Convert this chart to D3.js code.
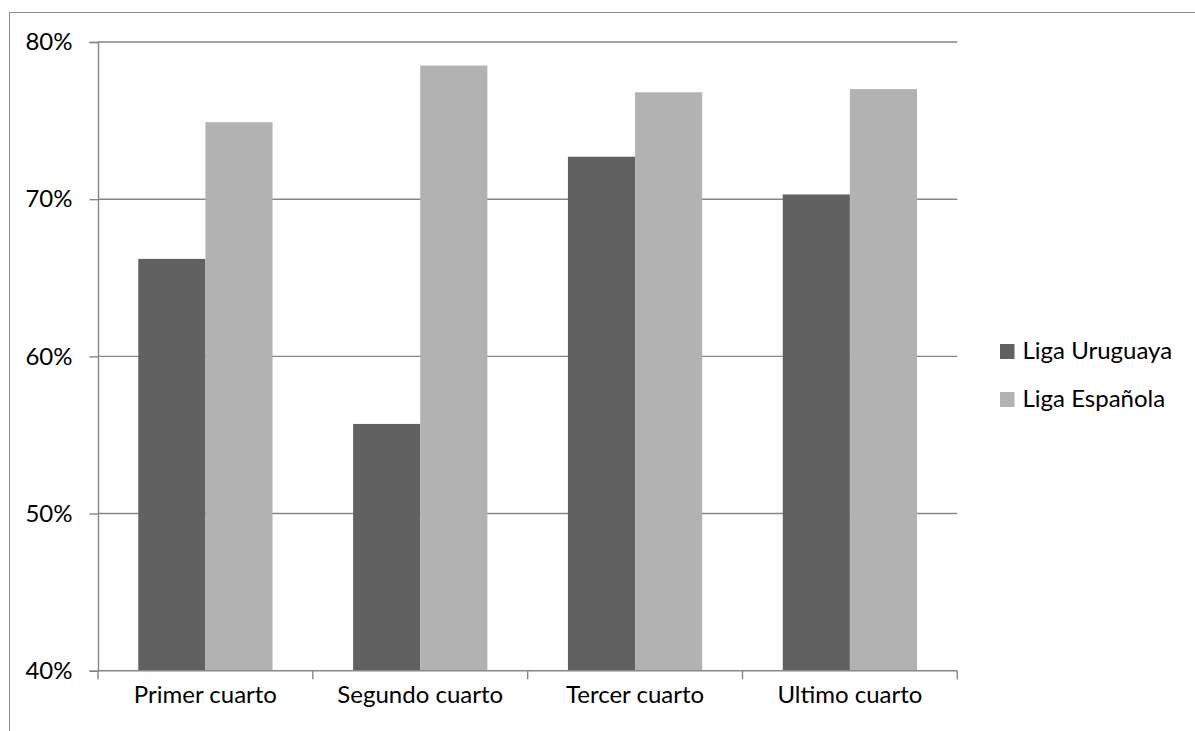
<!DOCTYPE html>
<html>
<head>
<meta charset="utf-8">
<script src="https://cdn.jsdelivr.net/npm/d3@7"></script>
<style>
  html, body { margin: 0; padding: 0; background: #fff; }
  svg { display: block; }
  text { font-family: Lato, "Open Sans", sans-serif; fill: #000; }
</style>
</head>
<body>
<svg id="chart" width="1195" height="731"></svg>
<script>
// Categories (quarters of the match) and the two series
const categories = ["Primer cuarto", "Segundo cuarto", "Tercer cuarto", "Ultimo cuarto"];
const seriesNames = ["Liga Uruguaya", "Liga Española"];
const ligaUruguaya = [0.662, 0.557, 0.727, 0.703];
const ligaEspanola = [0.749, 0.785, 0.768, 0.770];
const yTicks = [0.4, 0.5, 0.6, 0.7, 0.8];
const colors = ["#616161", "#b2b2b2"];

const seriesValues = [ligaUruguaya, ligaEspanola];
const rows = categories.map((c, i) => ({
  category: c,
  values: seriesNames.map((s, k) => ({ series: s, value: seriesValues[k][i], color: colors[k] }))
}));

const FONT_SIZE = 24;
const svg = d3.select("#chart");
const plot = { left: 98, right: 957.3, top: 42, bottom: 670.7 };
const gridColor = "#868686";

// Outer chart frame
svg.append("rect")
  .attr("x", 9.5).attr("y", 12.5)
  .attr("width", 1200).attr("height", 740)
  .attr("fill", "none").attr("stroke", "#8a8a8a").attr("stroke-width", 1);

const y = d3.scaleLinear().domain([0.4, 0.8]).range([plot.bottom, plot.top]);
const x0 = d3.scaleBand().domain(categories).range([plot.left, plot.right]).padding(0);
const x1 = d3.scaleBand().domain(seriesNames).range([0, x0.bandwidth()]).paddingInner(0).paddingOuter(0.6);

// Horizontal gridlines
svg.append("g").selectAll("line")
  .data(yTicks.filter(t => t > 0.4))
  .join("line")
  .attr("x1", plot.left).attr("x2", plot.right)
  .attr("y1", d => y(d)).attr("y2", d => y(d))
  .attr("stroke", gridColor).attr("stroke-width", 1.4);

// Bars
svg.append("g").selectAll("g")
  .data(rows)
  .join("g")
  .attr("transform", d => `translate(${x0(d.category)},0)`)
  .selectAll("rect")
  .data(d => d.values)
  .join("rect")
  .attr("x", d => x1(d.series))
  .attr("width", x1.bandwidth())
  .attr("y", d => y(d.value))
  .attr("height", d => y(0.4) - y(d.value))
  .attr("fill", d => d.color);

// Y axis
const yAxis = svg.append("g")
  .attr("transform", `translate(${plot.left},0)`)
  .call(d3.axisLeft(y).tickValues(yTicks).tickFormat(d3.format(".0%")).tickSize(8.5).tickPadding(17));
yAxis.select(".domain").attr("stroke", gridColor).attr("stroke-width", 1.4);
yAxis.selectAll(".tick line").attr("stroke", gridColor).attr("stroke-width", 1.4);
yAxis.selectAll(".tick text")
  .attr("font-size", FONT_SIZE).attr("font-family", "Lato, 'Open Sans', sans-serif").attr("fill", "#000");

// X axis: baseline, boundary ticks and centred category labels
const xAxis = svg.append("g").attr("transform", `translate(0,${plot.bottom})`);
xAxis.append("line")
  .attr("x1", plot.left).attr("x2", plot.right)
  .attr("stroke", gridColor).attr("stroke-width", 1.4);
const boundaries = categories.map(c => x0(c)).concat([x0(categories[categories.length - 1]) + x0.bandwidth()]);
xAxis.selectAll("line.tick")
  .data(boundaries)
  .join("line")
  .attr("class", "tick")
  .attr("x1", d => d).attr("x2", d => d)
  .attr("y1", 0).attr("y2", 8.5)
  .attr("stroke", gridColor).attr("stroke-width", 1.4);
xAxis.selectAll("text")
  .data(categories)
  .join("text")
  .attr("x", d => x0(d) + x0.bandwidth() / 2)
  .attr("y", 32.5)
  .attr("text-anchor", "middle")
  .attr("font-size", FONT_SIZE)
  .text(d => d);

// Legend
const legend = svg.append("g").attr("transform", "translate(1000,344)");
const items = legend.selectAll("g")
  .data(seriesNames)
  .join("g")
  .attr("transform", (d, i) => `translate(0,${i * 48})`);
items.append("rect")
  .attr("width", 14.5).attr("height", 15)
  .attr("fill", (d, i) => colors[i]);
items.append("text")
  .attr("x", 22.5).attr("y", 15)
  .attr("font-size", FONT_SIZE)
  .text(d => d);
</script>
</body>
</html>
